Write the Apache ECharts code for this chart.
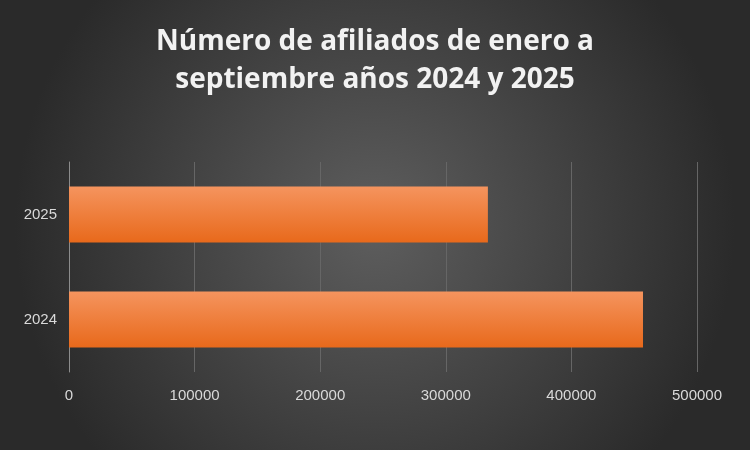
<!DOCTYPE html>
<html><head><meta charset="utf-8">
<script src="https://cdn.jsdelivr.net/npm/echarts@6/dist/echarts.min.js"></script>
<style>html,body{margin:0;padding:0;}#c{width:750px;height:450px;}</style>
</head><body><div id="c"></div>
<script>
const categories = ['2024', '2025'];
const values = [457000, 333500];
const chart = echarts.init(document.getElementById('c'));
chart.setOption({
  backgroundColor: new echarts.graphic.RadialGradient(0.5, 0.5, 0.8, [
    {offset: 0, color: '#5e5e5e'}, {offset: 1, color: '#2a2a2a'}]),
  title: {
    text: 'Número de afiliados de enero a\nseptiembre años 2024 y 2025',
    left: 'center', top: 18,
    textStyle: {color: '#f2f2f2', fontSize: 28, fontWeight: 'bold', fontFamily: 'Open Sans', lineHeight: 38,
      textBorderColor: 'transparent'}
  },
  grid: {left: 69, right: 53, top: 162, bottom: 78, containLabel: false, outerBoundsMode: 'none'},
  xAxis: {
    type: 'value', min: 0, max: 500000, interval: 100000,
    axisLine: {show: false}, axisTick: {show: false},
    axisLabel: {color: '#d9d9d9', fontSize: 15, fontFamily: 'Liberation Sans', margin: 16,
      formatter: v => String(v)},
    splitLine: {lineStyle: {color: '#666666', width: 1}}
  },
  yAxis: {
    type: 'category', data: categories,
    axisLine: {lineStyle: {color: '#8c8c8c'}}, axisTick: {show: false},
    axisLabel: {color: '#d9d9d9', fontSize: 15, fontFamily: 'Liberation Sans', margin: 12}
  },
  series: [{
    type: 'bar', data: values, barWidth: 56,
    itemStyle: {
      color: new echarts.graphic.LinearGradient(0, 0, 0, 1, [
        {offset: 0, color: '#f5945e'}, {offset: 1, color: '#e8691b'}]),
      shadowColor: 'rgba(0,0,0,0.6)', shadowBlur: 6, shadowOffsetY: 3, shadowOffsetX: 1
    }
  }]
});
</script></body></html>
